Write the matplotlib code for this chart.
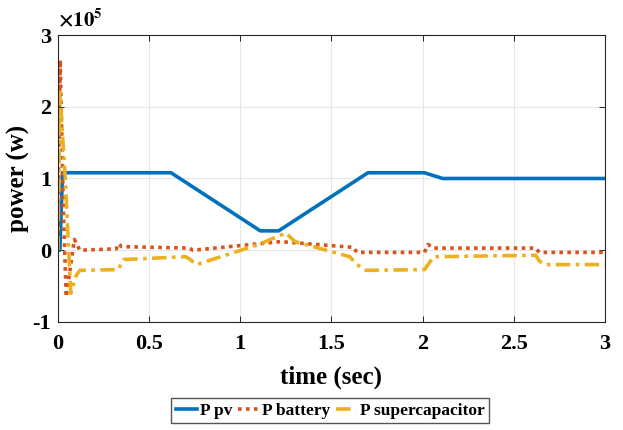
import numpy as np
import matplotlib.pyplot as plt
from matplotlib.ticker import FuncFormatter

# breakpoints of the power traces (time in s, power in W)
t_pv = [0, 0.01, 0.025, 0.62, 1.11, 1.21, 1.70, 2.01, 2.11, 3.0]
p_pv = [0, 0, 108000, 108000, 27000, 27000, 108000, 108000, 100000, 100000]

t_bat = [0, 0.005, 0.012, 0.03, 0.045, 0.07, 0.09, 0.12, 0.32, 0.33, 0.35,
         0.72, 0.74, 1.22, 1.62, 1.64, 2.01, 2.03, 2.06, 2.62, 2.64, 3.0]
p_bat = [0, 150000, 265000, 50000, -65000, -20000, 15000, 0, 2000, 9000, 5000,
         3000, 0, 12000, 4000, -3000, -3000, 8000, 3000, 3000, -3000, -3000]

t_sc = [0, 0.01, 0.04, 0.07, 0.1, 0.12, 0.33, 0.36, 0.7, 0.72, 0.76, 1.1,
        1.25, 1.3, 1.6, 1.64, 1.69, 2.01, 2.06, 2.62, 2.64, 2.67, 3.0]
p_sc = [0, 220000, 100000, -60000, -35000, -28000, -27000, -13000, -9000,
        -12000, -20000, 8000, 24000, 12000, -9000, -20000, -28000, -27000,
        -9000, -7000, -15000, -20000, -20000]

x_ticks = [0, 0.5, 1, 1.5, 2, 2.5, 3]
x_labels = ['0', '0.5', '1', '1.5', '2', '2.5', '3']
y_ticks = [-100000, 0, 100000, 200000, 300000]
y_scale = 1e5

plt.rcParams['font.family'] = ['Liberation Serif', 'DejaVu Serif']
plt.rcParams['font.weight'] = 'bold'
plt.rcParams['mathtext.fontset'] = 'stix'

fig = plt.figure(figsize=(6.23, 4.30), dpi=100)
ax = fig.add_axes([0.0931, 0.2512, 0.8779, 0.6674])

ax.plot(t_pv, p_pv, color='#0072BD', lw=2.6, label='P pv')
ax.plot(t_bat, p_bat, color='#D95319', lw=2.6, ls=(0, (1, 1.2)), label='P battery')
ax.plot(t_sc, p_sc, color='#EDB120', lw=2.6, ls=(0, (4, 1.5, 1, 1.5)),
        label='P supercapacitor')

ax.set_xlim(0, 3)
ax.set_ylim(-100000, 300000)
ax.set_xticks(x_ticks)
ax.set_xticklabels(x_labels)
ax.set_yticks(y_ticks)
# plain hyphen for negatives, exponent shown separately above the axis
ax.yaxis.set_major_formatter(FuncFormatter(lambda v, _: '%g' % (v / y_scale)))
ax.text(0.0, 1.015, r'$\times 10^{5}$', transform=ax.transAxes,
        fontsize=15, ha='left', va='bottom')

ax.grid(True, color='#e6e6e6', lw=0.8)
ax.tick_params(direction='in', top=True, right=True, labelsize=16,
               length=4, width=0.6)
ax.tick_params(axis='x', pad=9)
ax.tick_params(axis='y', pad=5)
for s in ax.spines.values():
    s.set_linewidth(0.8)
    s.set_color('#262626')

ax.set_xlabel('time (sec)', fontsize=18, fontweight='bold', labelpad=8)
ax.set_ylabel('power (w)', fontsize=18, fontweight='bold')
ax.yaxis.set_label_coords(-0.051, 0.5)

fig.legend(loc='center', bbox_to_anchor=(0.530, 0.045), ncol=3,
           fontsize=12.5, handlelength=1.2, handletextpad=0.2,
           columnspacing=0.3, borderpad=0.25, fancybox=False,
           edgecolor='#555555', framealpha=1)

fig.savefig('out.png', dpi=100)
